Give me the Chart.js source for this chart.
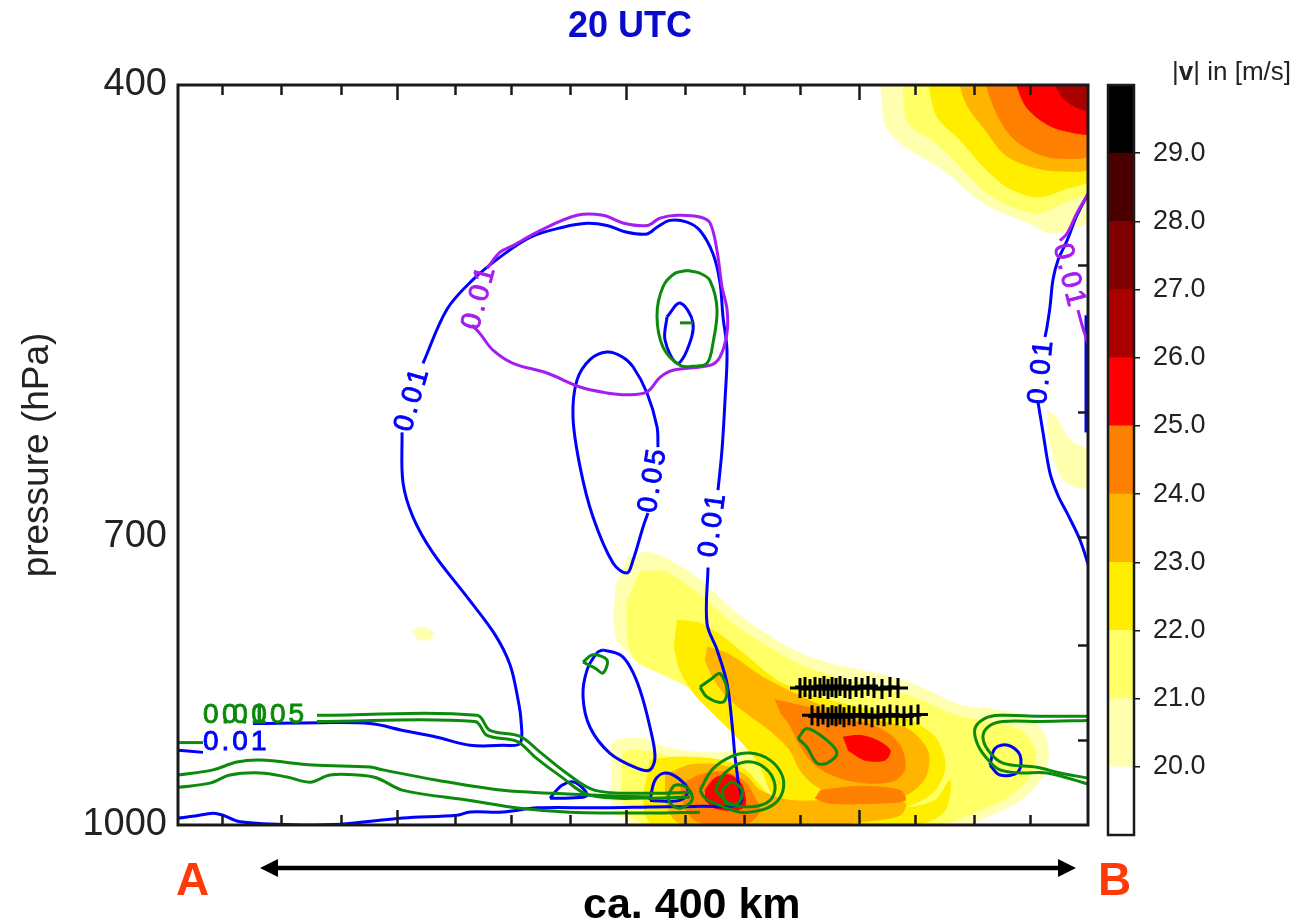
<!DOCTYPE html>
<html>
<head>
<meta charset="utf-8">
<title>20 UTC cross-section</title>
<script src="https://cdn.jsdelivr.net/npm/chart.js@4.4.1/dist/chart.umd.min.js"></script>
<style>
  html, body { margin: 0; padding: 0; background: #fff; }
  body { width: 1297px; height: 920px; position: relative; overflow: hidden;
         font-family: "Liberation Sans", Arial, Helvetica, sans-serif; }
  #main { position: absolute; left: 0; top: 0; width: 1297px; height: 920px; }
  #bar  { position: absolute; left: 1100px; top: 0; width: 197px; height: 920px; }
  .txt  { position: absolute; white-space: nowrap; line-height: 1; }
  #title { left: 568px; top: 7px; font-size: 36px; font-weight: bold; color: #0a0acc; }
  #unit  { left: 1172px; top: 58px; font-size: 26px; color: #222; }
  #ptA   { left: 176px; top: 856px; font-size: 46px; font-weight: bold; color: #ff3a0a; }
  #ptB   { left: 1098px; top: 856px; font-size: 46px; font-weight: bold; color: #ff3a0a; }
  #dist  { left: 583px; top: 882px; font-size: 43px; font-weight: bold; color: #000; }
  #arrow { position: absolute; left: 0; top: 850px; }
</style>
</head>
<body>
<div id="main"><canvas id="section"></canvas></div>
<div id="bar"><canvas id="colorbar"></canvas></div>
<div class="txt" id="title">20 UTC</div>
<div class="txt" id="unit">|<b>v</b>| in [m/s]</div>
<div class="txt" id="ptA">A</div>
<div class="txt" id="ptB">B</div>
<div class="txt" id="dist">ca. 400 km</div>
<svg id="arrow" width="1297" height="40">
  <line x1="274" y1="18" x2="1062" y2="18" stroke="#000" stroke-width="4.5"/>
  <polygon points="260,18 278,9 278,27" fill="#000"/>
  <polygon points="1076,18 1058,9 1058,27" fill="#000"/>
</svg>

<script>
// ---------------------------------------------------------------
// Cross-section A-B: distance along section [km] vs pressure [hPa]
// Points are [km, hPa].
// ---------------------------------------------------------------

// axis ticks
const distanceTicks = [22, 51.5, 81.5, 109.5, 138.5, 166.5, 196, 224, 253.5, 283, 311, 340.5, 368.5, 398, 426];
const distanceMajorTicks = [109.5, 224, 340.5];
const pressureLabels = [400, 700, 1000];
const pressureTicks = [500, 600, 700, 800, 900];

// wind speed colour bar
const speedLevels = [19, 20, 21, 22, 23, 24, 25, 26, 27, 28, 29, 30];
const speedTickLabels = [20, 21, 22, 23, 24, 25, 26, 27, 28, 29];
const speedColors = ['#ffffff', '#ffffb0', '#ffff66', '#ffee00', '#ffb400', '#ff8000',
                     '#ff0000', '#aa0000', '#800000', '#4b0000', '#000000'];

// |v| shaded areas: upper jet (top right)
const jetTop20 = [[351,395],[352,407.5],[354,421],[362.5,431],[382.5,444.2],[396,457],[406,465.2],[424.5,474],[436,480.8],[443.5,479],[458.5,470],[458.5,395]];
const jetTop21 = [[362.5,395],[365,419],[379.5,430],[391,442.3],[401,453.8],[412.5,462.9],[429.5,468.7],[442.5,462.9],[458.5,452.7],[458.5,395]];
const jetTop22 = [[374.5,395],[379.5,416],[391,428],[402.5,442.3],[414.5,453.8],[429.5,459.5],[442.5,455.4],[458.5,447],[458.5,395]];
const jetTop23 = [[389.5,395],[394.5,410],[403.5,422.7],[413.5,436],[426,442.3],[441,445],[458.5,441.7],[458.5,395]];
const jetTop24 = [[402.5,395],[408.5,412.5],[416,425.5],[426,433.5],[438.5,437.8],[458.5,434.5],[458.5,395]];
const jetTop25 = [[417.5,395],[423.5,410],[431,417.6],[441,422.7],[458.5,423.8],[458.5,395]];
const jetTop26 = [[436,395],[442.5,406.4],[450,411.5],[458.5,412.5],[458.5,395]];
const edgePatch20 = [[434.5,598],[440,605.7],[446,621],[458.5,632.5],[458.5,656.4],[448.5,658],[441,648.4],[437,628.6],[434.5,613]];
const smallPatch20 = [[117,786.5],[122,782.7],[127.5,787.5],[126,794.3],[120,795.2]];

// |v| shaded areas: low-level jet
const jetLow20 = [[224.5,718.7],[234.5,713.3],[246,720.5],[261,738.5],[277.5,766.4],[291,785.5],[307.5,805],[324.5,818],[341,825.5],[357.5,833],[374.5,846],[391,862],[411,867.5],[426,876.3],[433.5,895],[435,922.8],[431,946],[421,970],[406,988],[391,1002.5],[361,1009],[231,1009],[225,994],[217.5,982],[217,934],[217.5,902.7],[232.5,898.4],[241,906],[257.5,913.7],[274.5,913.7],[284.5,906],[287,895],[281,884],[271,869.5],[261,853.5],[249.5,836],[232.5,817],[220,797],[218,776],[219,743]];
const jetLow21 = [[231,731],[243.5,731],[261,752.2],[278.5,781],[293.5,800],[311,820],[331,834],[351,843],[371,856.5],[388.5,873],[406,880.7],[421,889.5],[428.5,911.5],[426,940],[416,964],[401,982],[386,996],[361,1009],[238.5,1009],[231,996],[223.5,982],[222,940],[223.5,913.7],[236,913.7],[256,925],[276,925],[288.5,917],[293.5,900.5],[283.5,884],[271,865],[258.5,846],[243.5,831],[228.5,815],[225,795],[224.5,757]];
const jetLow22a = [[249.5,776],[261,779],[271,790],[283.5,810],[299.5,836],[316,851],[341,865],[363.5,876.3],[378.5,897],[383.5,928.5],[378.5,958],[366,976],[346,988],[321,994],[306,988],[296,958],[291,928.5],[281,900.5],[268.5,873],[258.5,851],[251,825.5],[248,800]];
const jetLow22b = [[236,922.8],[251,919.3],[271,922.8],[283.5,934],[296,964],[311,970],[336,976],[361,979.4],[378.5,970],[386,946],[383.5,982],[371,1000],[351,1009],[241,1009],[233.5,984.2],[233.5,952]];
const jetLow23a = [[264.5,802],[276,810],[291,831],[307.5,849],[324.5,865],[349.5,878.5],[366,889.5],[375,913.7],[373.5,943.5],[363.5,964],[346,970],[331,964],[318.5,952],[311,934],[306,911.5],[296,889.5],[283.5,869.5],[273.5,851],[267,831],[263.5,815]];
const jetLow23b = [[243.5,940],[256,928.5],[271,928.5],[283.5,940],[291,958],[306,970],[326,970],[351,970],[363.5,973.5],[361,988],[341,996],[311,1003.7],[286,1006],[261,1006],[248.5,994],[243.5,970]];
const jetLow24a = [[298.5,856.5],[316,865],[333.5,876.3],[351,887.3],[361,906],[363.5,932],[358.5,946],[346,949.5],[331,943.5],[318.5,928.5],[311,906],[306,884],[301,869.5]];
const jetLow24b = [[251,952],[261,940],[273.5,936.5],[283.5,948.5],[288.5,967.3],[291,982],[286,996],[271,1001],[258.5,994],[252.5,976]];
const jetLow24c = [[321,958],[341,953.2],[361,958],[363.5,970],[346,973.5],[326,973.5],[318.5,967.3]];
const jetLow25a = [[332.5,897],[341,895],[349.5,900.5],[356,911.5],[353.5,922.8],[343.5,922.8],[335,911.5]];
const jetLow25b = [[263.5,958],[268.5,943.5],[276,940],[282,952],[283.5,976],[278.5,982],[268.5,979.4],[263.5,970]];

// blue contours
const blueOuterEdge = [[0,911.5],[12.5,914]];
const blueOuterLow = [[37.5,882],[71,881],[96,882],[112.5,889.5],[129.5,897],[146,906],[162.5,906],[171,904],[171.5,878.5],[170,856],[166,820],[158.5,790],[144.5,754],[127.5,714],[117.5,683],[112.5,654.5],[112,615]];
const blueOuterTop = [[122.5,564.6],[134.5,528],[147.5,509],[161,495],[176,483],[192.5,477],[204.5,474.7],[214.5,476],[224.5,480],[234.5,481],[239.5,477],[246,473],[254.5,474],[261,479],[267.5,493],[271,511],[272.5,533],[274.5,555.5],[273.5,591],[272,628.5],[270,660.5]];
const blueOuterBase = [[265,727],[264.5,779],[269.5,805],[274.5,839],[277,882],[278.5,919],[280,946],[281,973.5],[261,977],[236,978],[212.5,979],[179.5,979],[162.5,984],[146,984],[139.5,988],[112.5,991.5],[81,999],[62.5,1000],[31,996],[22.5,988],[17.5,985.5],[8.5,989],[0,991.5]];
const blueInner = [[240,626.3],[239.5,610.6],[234.5,585.7],[227.5,567],[222,560],[214.5,556.8],[206,562],[199.5,576.5],[197.5,603.5],[201,641.6],[207.5,683],[217.5,723],[224.5,732],[227.5,720.5],[232.5,691.6],[235,679.5]];
const blueCore = [[244.5,533],[251,524],[257.5,537],[254.5,555.5],[249.5,564.6],[243.5,548.5],[244.5,533]];
const blueLowOval = [[212.5,805],[221,810],[226,822],[231,846],[236,886],[238.5,919],[236,934],[229.5,932],[216,915],[206,886],[202.5,853],[204.5,825.5],[209.5,808],[212.5,805]];
const blueBlobA = [[236,970],[238.5,946],[243.5,937.6],[250,943.5],[255,958],[251,970],[236,970]];
const blueBlobB = [[186,967.3],[192,952],[198.5,948.5],[204.5,964],[196,967],[186,967.3]];
const blueBlobC = [[406,928.5],[408.5,909.5],[415,906],[421,917],[420,936.5],[411,940],[406,928.5]];
const blueRightUpper = [[456,455.6],[449.5,470],[444.5,485],[440,497],[437.5,509],[436,526.5],[434.5,539.7],[433.5,546.5]];
const blueRightLower = [[430,592.3],[432.5,615],[436,646.8],[440,665],[444.5,679.5],[451,702.6],[456,729.5]];
const blueRightEdge = [[454,532],[454,615]];

// purple contours
const purpleMain = [[154.5,502],[161,492],[167.5,488],[181,479],[199.5,470],[212.5,470],[222.5,474.5],[234.5,476],[241,471.7],[249.5,470],[261,471],[266,474.5],[269.5,491],[272,513.5],[274.5,528],[274.5,543.6],[271,560.2],[266,566],[247.5,569.5],[241,574.5],[234.5,585],[224.5,587],[214.5,585.7],[201,581.4],[184.5,571.4],[167.5,564.6],[157.5,555.5],[151,544.2],[147,538.4]];
const purpleRightUpper = [[456,456],[449.5,468.7],[444.5,480.8],[441,485]];
const purpleRightLower = [[450,528.6],[452,538.4],[455,551]];

// green contours
const greenUpperEdge = [[0,903],[12.5,903]];
const greenUpperA = [[69.5,873],[149.5,873],[156,889.5],[171,896],[181,913.7],[193.5,936.5],[208.5,958],[236,961.5],[256,960.3]];
const greenUpperB = [[69.5,879.6],[148.5,879.6],[154.5,895],[169.5,901.6],[178.5,919.3],[191,941],[206,964],[236,967.3],[256,966]];
const greenLowerA = [[0,940],[17.5,934],[29.5,925],[41,922.8],[67.5,928.5],[96,930.8],[102.5,934],[129.5,946],[162.5,958],[187.5,961.5],[212.5,964],[236,966]];
const greenLowerB = [[0,954.4],[16,949.5],[26,940],[41,937.6],[54.5,942.3],[66,948.3],[76,940],[89.5,940],[99.5,943.5],[112.5,958],[146,970],[171,979.4],[196,984.2],[236,985.4],[261,984.2]];
const greenLoopOuter = [[261,958],[267,934],[276,919.3],[286,914.8],[296,922.8],[302,940],[302.5,958],[298.5,973.5],[291,982],[281,984.2],[271,976],[263.5,967.3],[261,958]];
const greenLoopInner = [[268.5,958],[273.5,937.6],[283.5,925],[293.5,931.8],[298.5,952],[296,970],[287,977.6],[276,973.5],[268.5,958]];
const greenSmallA = [[245,964],[248.5,952],[255,955.6],[257,970],[251,979.4],[246,973.5],[245,964]];
const greenSmallB = [[272,958],[277,948.5],[282,958],[280,973.5],[274,973.5],[272,958]];
const greenOval = [[254.5,503.3],[261,505],[266,509.6],[269.5,528],[267.5,550.5],[264.5,564.6],[257.5,566.7],[251,566],[242.5,553.3],[239.5,532],[242.5,513.5],[248.5,505],[254.5,503.3]];
const greenTick = [[251,537],[257.5,537]];
const greenTriA = [[202.5,817.3],[207.5,810],[214.5,815.3],[212.5,828.5],[208.5,823.4],[202.5,817.3]];
const greenTriB = [[261,843],[267,834],[271,829],[274.5,846],[272.5,858.8],[264.5,853.5],[261,843]];
const greenLoopMid = [[310,898.4],[314.5,887.3],[324.5,900.5],[329.5,914.8],[324.5,926.2],[319.5,926.2],[314.5,908.2],[310,898.4]];
const greenRightA = [[455,874],[431,874],[411,873],[403.5,876.3],[398.5,887.3],[400,906],[406,925],[411,934],[421,937.6],[434.5,937.6],[455,950.6]];
const greenRightB = [[455,878.5],[431,879.6],[412.5,879.6],[406,884],[402.5,895],[405,911.5],[412.5,926.2],[429.5,931],[441,937.6],[455,943.5]];

// black "+" rows
const crossRowUpperKm  = [311, 313.5, 316, 318.5, 321, 323, 325, 327, 329, 331, 333.5, 336, 339, 342, 345, 348, 352, 356, 360];
const crossRowUpperHpa = [844, 843, 845, 843, 844, 842, 845, 843, 844, 842, 844, 845, 843, 844, 842, 844, 845, 843, 844];
const crossRowLowerKm  = [317, 320, 322.5, 325, 327, 329, 331, 333, 335.5, 338, 341, 344, 347, 350, 353, 356, 359.5, 363, 366.5, 370];
const crossRowLowerHpa = [873, 874, 872, 875, 873, 874, 872, 875, 873, 874, 872, 873, 875, 873, 874, 872, 873, 874, 873, 872];

// ---------------------------------------------------------------
const BLUE = '#0000ff', PURPLE = '#a41ef0', GREEN = '#0b8a0b';
const FONT = '"Liberation Sans", Arial, Helvetica, sans-serif';

// contour value labels: anchor [km, hPa], text direction, anchoring
const contourLabels = [
  { text: '0.01',  at: [117.25, 590], angle: -74, color: BLUE,   align: 'center' },
  { text: '0.01',  at: [267.5, 689],  angle: -82, color: BLUE,   align: 'center' },
  { text: '0.05',  at: [237.5, 652],  angle: -81, color: BLUE,   align: 'center' },
  { text: '0.01',  at: [431.75, 570], angle: -84, color: BLUE,   align: 'center' },
  { text: '0.01',  at: [150.75, 520], angle: -75, color: PURPLE, align: 'center' },
  { text: '0.01',  at: [445.5, 507],  angle: 76,  color: PURPLE, align: 'center' },
  { text: '0.01',  at: [12.5, 903],   angle: 0,   color: BLUE,   align: 'left' },
  { text: '0.01',  at: [12.5, 873],   angle: 0,   color: GREEN,  align: 'left' },
  { text: '0.005', at: [22, 873],     angle: 0,   color: GREEN,  align: 'left' }
];

const pts = arr => arr.map(([x, y]) => ({ x, y }));

function area(arr, level) {
  const c = speedColors[level - 19];
  return { data: pts(arr), fill: 'shape', backgroundColor: c, borderColor: c,
           borderWidth: 1, tension: 0.3, pointRadius: 0, order: 60 - level, clip: 0 };
}
function contour(arr, color) {
  return { data: pts(arr), fill: false, borderColor: color, borderWidth: 3,
           tension: 0.35, pointRadius: 0, order: 5, clip: 0 };
}
function crossRow(kms, hpas) {
  return { data: kms.map((k, i) => ({ x: k, y: hpas[i] })), fill: false,
           borderColor: '#000', backgroundColor: '#000', borderWidth: 3.5,
           pointStyle: 'cross', pointRadius: 10, pointBorderWidth: 3,
           pointBorderColor: '#000', tension: 0, order: 1, clip: 0 };
}

const datasets = [
  area(jetTop20, 20), area(edgePatch20, 20), area(smallPatch20, 20), area(jetLow20, 20),
  area(jetTop21, 21), area(jetLow21, 21),
  area(jetTop22, 22), area(jetLow22a, 22), area(jetLow22b, 22),
  area(jetTop23, 23), area(jetLow23a, 23), area(jetLow23b, 23),
  area(jetTop24, 24), area(jetLow24a, 24), area(jetLow24b, 24), area(jetLow24c, 24),
  area(jetTop25, 25), area(jetLow25a, 25), area(jetLow25b, 25),
  area(jetTop26, 26),

  contour(greenUpperEdge, GREEN), contour(greenUpperA, GREEN), contour(greenUpperB, GREEN),
  contour(greenLowerA, GREEN), contour(greenLowerB, GREEN),
  contour(greenLoopOuter, GREEN), contour(greenLoopInner, GREEN),
  contour(greenSmallA, GREEN), contour(greenSmallB, GREEN),
  contour(greenOval, GREEN), contour(greenTick, GREEN),
  contour(greenTriA, GREEN), contour(greenTriB, GREEN), contour(greenLoopMid, GREEN),
  contour(greenRightA, GREEN), contour(greenRightB, GREEN),

  contour(purpleMain, PURPLE), contour(purpleRightUpper, PURPLE), contour(purpleRightLower, PURPLE),

  contour(blueOuterEdge, BLUE), contour(blueOuterLow, BLUE), contour(blueOuterTop, BLUE),
  contour(blueOuterBase, BLUE), contour(blueInner, BLUE), contour(blueCore, BLUE),
  contour(blueLowOval, BLUE), contour(blueBlobA, BLUE), contour(blueBlobB, BLUE),
  contour(blueBlobC, BLUE), contour(blueRightUpper, BLUE), contour(blueRightLower, BLUE),
  contour(blueRightEdge, BLUE),

  crossRow(crossRowUpperKm, crossRowUpperHpa),
  crossRow(crossRowLowerKm, crossRowLowerHpa)
];

// frame and inward tick marks of the section panel
const framePlugin = {
  id: 'sectionFrame',
  afterDatasetsDraw(chart) {
    const { ctx, chartArea: a, scales: { x, y } } = chart;
    ctx.save();
    ctx.strokeStyle = '#1a1a1a';
    ctx.lineWidth = 2.5;
    ctx.beginPath();
    distanceTicks.forEach(v => {
      const px = Math.round(x.getPixelForValue(v)) + 0.5;
      const len = distanceMajorTicks.includes(v) ? 15 : 10;
      ctx.moveTo(px, a.bottom); ctx.lineTo(px, a.bottom - len);
      ctx.moveTo(px, a.top);    ctx.lineTo(px, a.top + len);
    });
    pressureTicks.forEach(v => {
      const py = Math.round(y.getPixelForValue(v)) + 0.5;
      ctx.moveTo(a.right, py); ctx.lineTo(a.right - 10, py);
    });
    ctx.stroke();
    ctx.lineWidth = 3;
    ctx.strokeRect(a.left, a.top, a.right - a.left, a.bottom - a.top);
    ctx.restore();
  }
};

// contour value labels
const labelPlugin = {
  id: 'contourLabels',
  afterDatasetsDraw(chart) {
    const { ctx, chartArea: a, scales: { x, y } } = chart;
    ctx.save();
    ctx.beginPath();
    ctx.rect(a.left, a.top, a.right - a.left, a.bottom - a.top);
    ctx.clip();
    ctx.font = '28px "Liberation Sans", Arial, sans-serif';
    ctx.letterSpacing = '3px';
    ctx.textBaseline = 'middle';
    ctx.lineWidth = 0.9;
    contourLabels.forEach(l => {
      ctx.save();
      ctx.translate(x.getPixelForValue(l.at[0]), y.getPixelForValue(l.at[1]));
      ctx.rotate(l.angle * Math.PI / 180);
      ctx.textAlign = l.align;
      ctx.fillStyle = l.color;
      ctx.strokeStyle = l.color;
      ctx.fillText(l.text, 0, 0);
      ctx.strokeText(l.text, 0, 0);
      ctx.restore();
    });
    ctx.restore();
  }
};

new Chart(document.getElementById('section'), {
  type: 'line',
  data: { datasets },
  options: {
    responsive: true,
    maintainAspectRatio: false,
    animation: false,
    events: [],
    layout: { padding: { left: 16, top: 85, right: 209, bottom: 95 } },
    plugins: { legend: { display: false }, tooltip: { enabled: false }, title: { display: false } },
    elements: { point: { radius: 0 } },
    scales: {
      x: { type: 'linear', min: 0, max: 455, display: false },
      y: {
        type: 'logarithmic', min: 400, max: 1000, reverse: true,
        afterBuildTicks: s => { s.ticks = pressureLabels.map(v => ({ value: v })); },
        afterFit: s => { s.width = 162; },
        ticks: { callback: v => String(v), font: { size: 38, family: FONT }, color: '#222', padding: 3 },
        grid: { display: false, drawTicks: true, tickLength: 8 },
        border: { display: false },
        title: { display: true, text: 'pressure (hPa)', color: '#222',
                 font: { size: 37, family: FONT }, padding: { top: 0, bottom: 0 } }
      }
    }
  },
  plugins: [framePlugin, labelPlugin]
});

// ---------------------------------------------------------------
// colour bar for |v|
const barFramePlugin = {
  id: 'barFrame',
  afterDraw(chart) {
    const { ctx, chartArea: a } = chart;
    ctx.save();
    ctx.strokeStyle = '#1a1a1a';
    ctx.lineWidth = 2.5;
    ctx.strokeRect(a.left, a.top, a.right - a.left, a.bottom - a.top);
    ctx.restore();
  }
};

new Chart(document.getElementById('colorbar'), {
  type: 'bar',
  data: {
    labels: ['|v|'],
    datasets: speedColors.map((c, i) => ({
      data: [[speedLevels[i], speedLevels[i + 1]]],
      backgroundColor: c, borderWidth: 0, grouped: false,
      barPercentage: 1, categoryPercentage: 1
    }))
  },
  options: {
    responsive: true,
    maintainAspectRatio: false,
    animation: false,
    events: [],
    layout: { padding: { left: 8, top: 85, right: 0, bottom: 85 } },
    plugins: { legend: { display: false }, tooltip: { enabled: false } },
    scales: {
      x: { display: false },
      y: {
        type: 'linear', position: 'right', min: 19, max: 30, z: 1,
        afterBuildTicks: s => { s.ticks = speedTickLabels.map(v => ({ value: v })); },
        afterFit: s => { s.width = 163; },
        ticks: { callback: v => Number(v).toFixed(1), font: { size: 27, family: FONT }, color: '#222', padding: 13 },
        grid: { color: '#1a1a1a', lineWidth: 1.5, drawOnChartArea: true, drawTicks: true, tickLength: 6 },
        border: { display: false }
      }
    }
  },
  plugins: [barFramePlugin]
});
</script>
</body>
</html>
